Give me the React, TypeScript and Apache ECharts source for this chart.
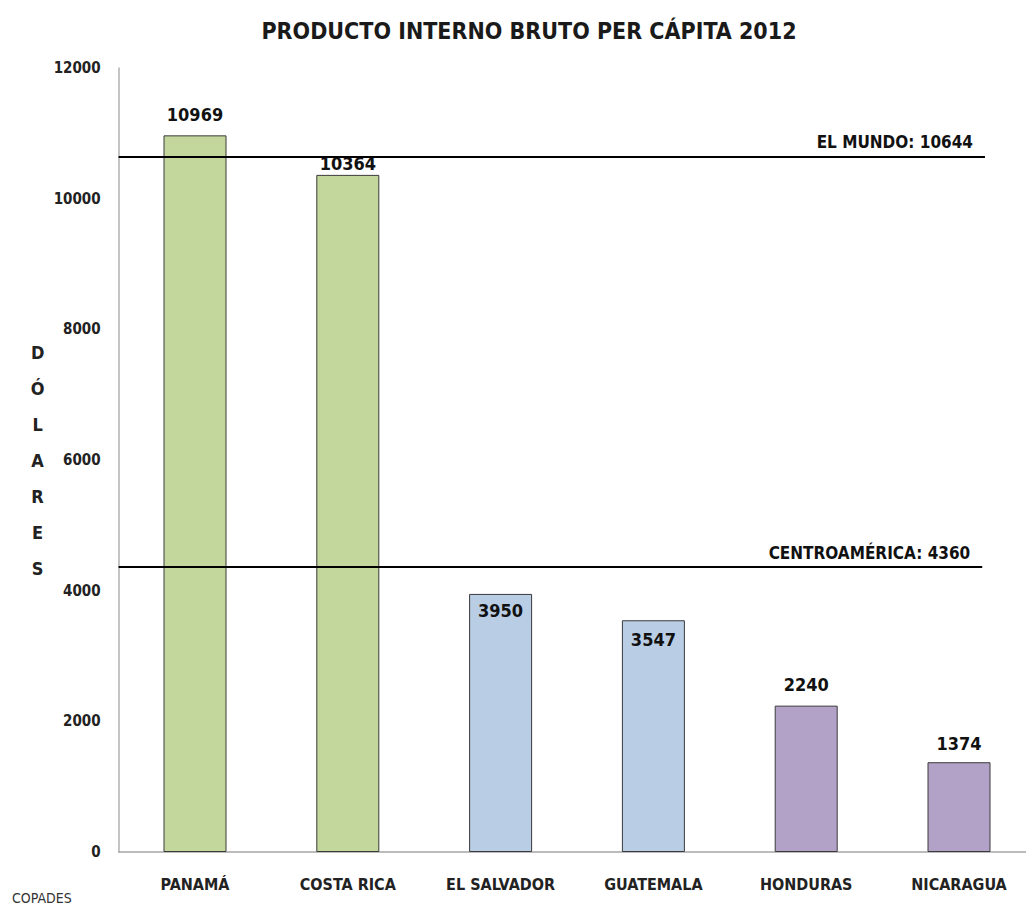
import React, { useEffect, useRef } from "react";
import * as echarts from "echarts";

// ---- data ----
const categories = ["PANAMÁ", "COSTA RICA", "EL SALVADOR", "GUATEMALA", "HONDURAS", "NICARAGUA"];
const values = [10969, 10364, 3950, 3547, 2240, 1374];
const referenceNames = ["EL MUNDO", "CENTROAMÉRICA"];
const referenceValues = [10644, 4360];
const yMin = 0;
const yMax = 12000;
const yStep = 2000;
const titleText = "PRODUCTO INTERNO BRUTO PER CÁPITA 2012";
const yAxisName = "DÓLARES";
const sourceText = "COPADES";

// ---- styles ----
const FONT = "'DejaVu Sans Condensed', 'Liberation Sans Narrow', 'Open Sans', sans-serif";
const barColors = ["#c3d69b", "#c3d69b", "#b9cde5", "#b9cde5", "#b3a2c7", "#b3a2c7"];
const labelPlacement = [
  { position: "top", distance: 12 },
  { position: "top", distance: 2 },
  { position: "insideTop", distance: 8 },
  { position: "insideTop", distance: 10 },
  { position: "top", distance: 12 },
  { position: "top", distance: 10 },
];
const referenceLineEnds = [0.945, 0.942];

export default function App() {
  const ref = useRef<HTMLDivElement>(null);

  useEffect(() => {
    if (!ref.current) return;
    const chart = echarts.init(ref.current, null, { renderer: "svg" });
    chart.setOption({
      animation: false,
      backgroundColor: "#ffffff",
      textStyle: { fontFamily: FONT },
      grid: { left: 118.6, right: 9.6, top: 68, bottom: 57, containLabel: false },
      graphic: [
        {
          type: "text",
          x: 529,
          y: 31,
          style: {
            text: titleText,
            fontFamily: FONT,
            fontSize: 23,
            fontWeight: "bold",
            fill: "#1a1a1a",
            textAlign: "center",
            textVerticalAlign: "middle",
          },
        },
        {
          type: "text",
          x: 12,
          y: 898,
          style: {
            text: sourceText,
            fontFamily: FONT,
            fontSize: 14,
            fill: "#333",
            textAlign: "left",
            textVerticalAlign: "middle",
          },
        },
      ],
      xAxis: [
        {
          type: "category",
          data: categories,
          axisLine: { lineStyle: { color: "#a6a6a6", width: 1.5 } },
          axisTick: { show: false },
          axisLabel: {
            color: "#222",
            fontFamily: FONT,
            fontWeight: "bold",
            fontSize: 16,
            margin: 24,
          },
        },
        { type: "value", min: 0, max: 1, show: false, position: "top" },
      ],
      yAxis: {
        type: "value",
        min: yMin,
        max: yMax,
        interval: yStep,
        splitLine: { show: false },
        axisLine: { show: true, lineStyle: { color: "#b0b0b0", width: 1.5 } },
        axisTick: { show: false },
        axisLabel: {
          color: "#222",
          fontFamily: FONT,
          fontWeight: "bold",
          fontSize: 15,
          margin: 18,
          formatter: (v: number) => String(v),
        },
        name: yAxisName.split("").join("\n"),
        nameLocation: "middle",
        nameRotate: 0,
        nameGap: 81,
        nameTextStyle: {
          align: "center",
          verticalAlign: "middle",
          lineHeight: 36,
          fontSize: 18,
          fontWeight: "bold",
          color: "#222",
          fontFamily: FONT,
        },
      },
      series: [
        {
          type: "bar",
          barWidth: 63,
          data: values.map((v, i) => ({
            value: v,
            itemStyle: { color: barColors[i] },
            label: { position: labelPlacement[i].position, distance: labelPlacement[i].distance },
          })),
          itemStyle: { borderColor: "#3a3a3a", borderWidth: 1 },
          label: {
            show: true,
            fontFamily: FONT,
            fontWeight: "bold",
            fontSize: 18,
            color: "#111",
          },
        },
        {
          type: "line",
          xAxisIndex: 1,
          data: [],
          markLine: {
            silent: true,
            symbol: ["none", "none"],
            lineStyle: { color: "#000", width: 2, type: "solid" },
            label: {
              show: true,
              position: "insideEndTop",
              distance: [12, 6],
              formatter: (p: any) => `${p.name}: ${referenceValues[p.dataIndex]}`,
              fontFamily: FONT,
              fontWeight: "bold",
              fontSize: 17,
              color: "#111",
            },
            data: referenceValues.map((v, i) => [
              { name: referenceNames[i], coord: [0, v] },
              { coord: [referenceLineEnds[i], v] },
            ]),
          },
        },
      ],
    });
    return () => chart.dispose();
  }, []);

  return (
    <div
      style={{
        position: "fixed",
        left: 0,
        top: 0,
        width: 1026,
        height: 909,
        overflow: "hidden",
        background: "#fff",
      }}
    >
      <div ref={ref} style={{ width: 1045, height: 909 }} />
    </div>
  );
}
